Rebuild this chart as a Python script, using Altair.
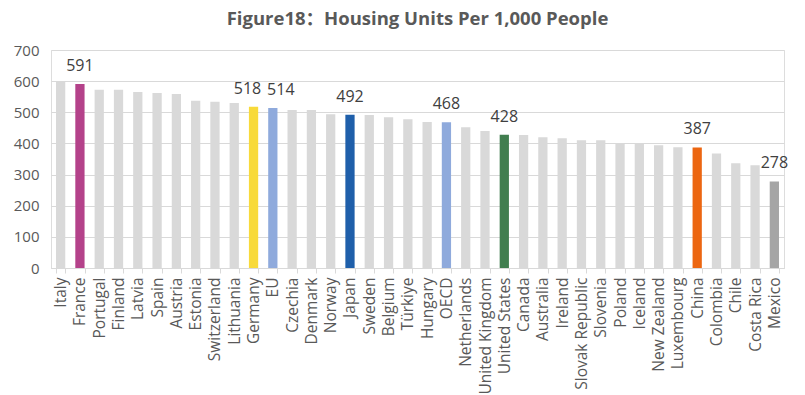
import altair as alt
import pandas as pd

countries = [
    "Italy", "France", "Portugal", "Finland", "Latvia", "Spain", "Austria",
    "Estonia", "Switzerland", "Lithuania", "Germany", "EU", "Czechia",
    "Denmark", "Norway", "Japan", "Sweden", "Belgium", "Türkiye", "Hungary",
    "OECD", "Netherlands", "United Kingdom", "United States", "Canada",
    "Australia", "Ireland", "Slovak Republic", "Slovenia", "Poland",
    "Iceland", "New Zealand", "Luxembourg", "China", "Colombia", "Chile",
    "Costa Rica", "Mexico",
]
values = [
    600, 591, 572, 572, 565, 562, 559,
    537, 534, 530, 518, 514, 507,
    507, 494, 492, 491, 484, 478, 469,
    468, 452, 440, 428, 427,
    420, 417, 410, 410, 401,
    401, 394, 388, 387, 368, 336,
    330, 278,
]
highlight_colors = {
    "France": "#B4428A",
    "Germany": "#F8DA3A",
    "EU": "#8FAADC",
    "Japan": "#1F5FAA",
    "OECD": "#8FAADC",
    "United States": "#417E4F",
    "China": "#EC6611",
    "Mexico": "#A5A5A5",
}
other_color = "#D9D9D9"
labelled = ["France", "Japan", "OECD", "United States", "China", "Mexico"]
label_left = ["Germany"]
label_right = ["EU"]
y_ticks = [0, 100, 200, 300, 400, 500, 600, 700]
title_text = "Figure18：Housing Units Per 1,000 People"

df = pd.DataFrame({"country": countries, "value": values})
df["group"] = [c if c in highlight_colors else "Other" for c in countries]

groups = list(highlight_colors.keys()) + ["Other"]
group_colors = list(highlight_colors.values()) + [other_color]

FONT = "Open Sans"

x = alt.X(
    "country:N",
    sort=countries,
    scale=alt.Scale(paddingInner=0.52, paddingOuter=0.26),
    axis=alt.Axis(
        title=None, labelAngle=-90, labelFont=FONT, labelFontSize=15.5,
        labelColor="#595959", domainColor="#D9D9D9", tickColor="#D9D9D9",
        tickSize=5, tickBand="extent", labelPadding=4, grid=False,
        labelOverlap=False,
    ),
)
y = alt.Y(
    "value:Q",
    scale=alt.Scale(domain=[0, 700], nice=False),
    axis=alt.Axis(
        title=None, values=y_ticks, labelFont=FONT, labelFontSize=15,
        labelColor="#595959", gridColor="#D9D9D9", domain=False, ticks=False,
        labelPadding=12, labelOverlap=False,
    ),
)

bars = alt.Chart(df).mark_bar().encode(
    x=x,
    y=y,
    color=alt.Color("group:N", scale=alt.Scale(domain=groups, range=group_colors), legend=None),
)


def value_labels(names, dx):
    return (
        alt.Chart(df)
        .transform_filter(alt.FieldOneOfPredicate(field="country", oneOf=names))
        .mark_text(baseline="bottom", dy=-10, dx=dx, font=FONT, fontSize=16, color="#404040")
        .encode(x=x, y=y, text="value:Q")
    )


chart = (
    alt.layer(
        bars,
        value_labels(labelled, 0),
        value_labels(label_left, -6),
        value_labels(label_right, 8),
    )
    .properties(
        width=733,
        height=218,
        title=alt.TitleParams(
            title_text, font="Open Sans, 'Noto Sans CJK SC'", fontSize=18.5,
            fontWeight="bold", color="#595959", anchor="middle", offset=15,
        ),
        padding={"left": 5, "top": 1, "right": 5, "bottom": 5},
    )
    .configure_view(stroke=None)
    .configure(background="white")
)

chart.save("out.html", embed_options={"renderer": "svg", "actions": False})
